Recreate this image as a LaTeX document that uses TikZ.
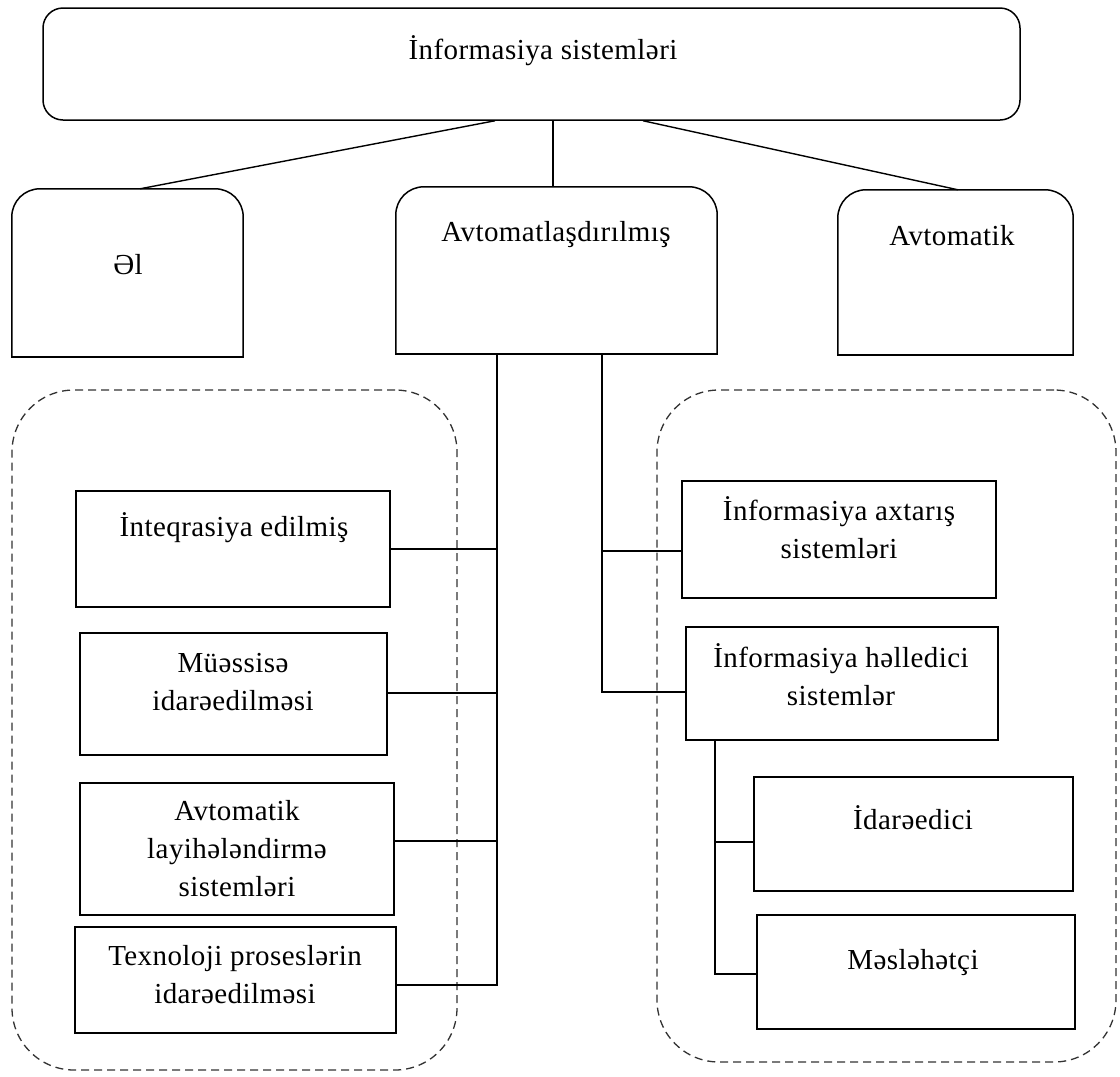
\documentclass[tikz,border=0pt]{standalone}
\usepackage{fontspec}
\setmainfont[LetterSpace=1.5]{Liberation Serif}
\usetikzlibrary{calc}
\begin{document}
\begin{tikzpicture}[x=1pt,y=-1pt,
  txt/.style={font=\fontsize{29}{38}\selectfont, align=center, inner sep=0pt},
  frame/.style={rectangle, inner sep=0pt},
  box/.style={frame, draw, line width=1.5pt},
  conn/.style={line width=1.4pt},
  region/.style={frame, draw=black!80, line width=1.3pt, dash pattern=on 8pt off 5pt, rounded corners=62pt},
  topbox/.style={box, rounded corners=20pt}]
\useasboundingbox (0,0) rectangle (1120,1077);

% dashed regions
\node[region, minimum width=445pt, minimum height=680pt] (regL) at (234.5,730) {};
\node[region, minimum width=459pt, minimum height=672pt] (regR) at (886.5,726) {};

% top level
\node[topbox, minimum width=977pt, minimum height=112pt] (top) at (531.5,64) {};
\node[txt] (ttop) at (543,51) {İnformasiya sistemləri};

% second level (rounded top corners)
\node[frame, minimum width=231pt, minimum height=168pt] (el) at (127.5,273) {};
\node[frame, minimum width=321pt, minimum height=167pt] (aut) at (556.5,270.5) {};
\node[frame, minimum width=235pt, minimum height=165pt] (avk) at (955.5,272.5) {};
\foreach \n in {el,aut,avk}{
  \draw[conn, line width=1.5pt, rounded corners=28pt] (\n.south west) -- (\n.north west) -- (\n.north east) -- (\n.south east);
  \draw[conn, line width=1.5pt, line cap=rect] (\n.south west) -- (\n.south east);
}
\node[txt] (tel) at (128,264.5) {Əl};
\node[txt] (taut) at (556,235) {Avtomatlaşdırılmış};
\node[txt] (tavk) at (952,236) {Avtomatik};

% left group
\node[box, minimum width=314pt, minimum height=116pt] (int) at (233,549) {};
\node[box, minimum width=307pt, minimum height=122pt] (mue) at (233.5,694) {};
\node[box, minimum width=314pt, minimum height=132pt] (alay) at (237,849) {};
\node[box, minimum width=321pt, minimum height=106pt] (tex) at (235.5,980) {};
\node[txt] (tint) at (234,528) {İnteqrasiya edilmiş};
\node[txt] (tmue) at (233,682) {Müəssisə\\idarəedilməsi};
\node[txt] (talay) at (237,849) {Avtomatik\\layihələndirmə\\sistemləri};
\node[txt] (ttex) at (235,975) {Texnoloji proseslərin\\idarəedilməsi};

% right group
\node[box, minimum width=314pt, minimum height=117pt] (ias) at (839,539.5) {};
\node[box, minimum width=312pt, minimum height=113pt] (ihs) at (842,683.5) {};
\node[box, minimum width=319pt, minimum height=114pt] (ida) at (913.5,834) {};
\node[box, minimum width=318pt, minimum height=114pt] (mes) at (916,972) {};
\node[txt] (tias) at (839,528) {İnformasiya axtarış\\sistemləri};
\node[txt] (tihs) at (841,675) {İnformasiya həlledici\\sistemlər};
\node[txt] (tida) at (913,818) {İdarəedici};
\node[txt] (tmes) at (913,963) {Məsləhətçi};

% connectors from top
\draw[conn] ([xshift=-36.5pt]top.south) -- ([xshift=12.5pt]el.north);
\draw[conn] ([xshift=21.5pt]top.south) -- ([xshift=21.5pt]top.south |- aut.north);
\draw[conn] ([xshift=111.5pt]top.south) -- ([xshift=2.5pt]avk.north);

% left trunk
\coordinate (j1) at ([xshift=-59.5pt]aut.south);
\draw[conn] (j1) |- ([yshift=-5pt]tex.east);
\draw[conn] (int.east) -- (int.east -| j1);
\draw[conn] ([yshift=1pt]mue.east) -- ([yshift=1pt]mue.east -| j1);
\draw[conn] ([yshift=8pt]alay.east) -- ([yshift=8pt]alay.east -| j1);

% right trunk
\coordinate (j2) at ([xshift=45.5pt]aut.south);
\draw[conn] (j2) |- ([yshift=-8.5pt]ihs.west);
\draw[conn] ([yshift=-11.5pt]ias.west) -- ([yshift=-11.5pt]ias.west -| j2);

% sub trunk
\coordinate (j3) at ([xshift=-127pt]ihs.south);
\draw[conn] (j3) |- ([yshift=-2pt]mes.west);
\draw[conn] ([yshift=-8pt]ida.west) -- ([yshift=-8pt]ida.west -| j3);
\end{tikzpicture}
\end{document}
